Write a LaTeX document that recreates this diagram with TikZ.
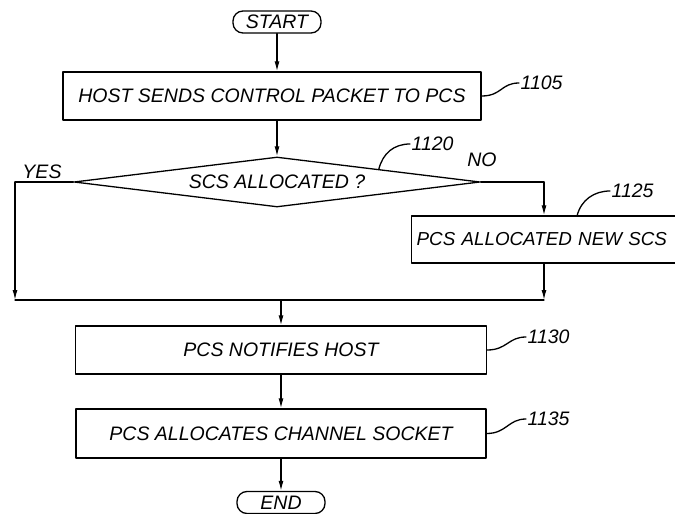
\documentclass[tikz,border=0pt]{standalone}
\usepackage{fontspec}
\setsansfont{Liberation Sans}
\usetikzlibrary{arrows.meta,shapes.geometric}
\tikzset{
  flowtext/.style={font=\sffamily\itshape\fontsize{19.5bp}{22bp}\selectfont},
  procbox/.style={draw,flowtext,minimum height=48bp,inner sep=0pt},
  termbox/.style={draw,flowtext,rounded corners=10bp,minimum width=88bp,minimum height=22bp,inner sep=0pt},
  decbox/.style={draw,flowtext,diamond,aspect=8,minimum width=406bp,minimum height=50bp,inner sep=0pt},
  reflabel/.style={flowtext,anchor=west,inner sep=1bp}
}
\begin{document}
\begin{tikzpicture}[line cap=round,line join=round,>={Latex[length=10bp,width=5bp]},x=1bp,y=-1bp,line width=1.3bp]
\useasboundingbox (0,0) rectangle (675,514);
\node[termbox] (start) at (277,22) {START};
\node[procbox,minimum width=418bp] (b1105) at (272,96) {HOST SENDS CONTROL PACKET TO PCS};
\node[decbox] (dec) at (277,182) {SCS ALLOCATED ?};
\node[procbox,anchor=west,text width=276bp,align=left,inner xsep=5bp,minimum height=47bp,
  font=\sffamily\itshape\fontsize{18.8bp}{22bp}\selectfont] (b1125) at (411,239.5) {PCS ALLOCATED NEW SCS};
\node[procbox,minimum width=411bp] (b1130) at (281,350) {PCS NOTIFIES HOST};
\node[procbox,minimum width=410bp,minimum height=49bp] (b1135) at (281,433.5) {PCS ALLOCATES CHANNEL SOCKET};
\node[termbox] (end) at (281,502.5) {END};
\node[flowtext] (yes) at (42,172) {YES};
\node[flowtext] (no) at (482,160) {NO};
\node[reflabel] (n1105) at (519,83) {1105};
\node[reflabel] (n1120) at (410,144) {1120};
\node[reflabel] (n1125) at (610,191) {1125};
\node[reflabel] (n1130) at (526,337) {1130};
\node[reflabel] (n1135) at (526,419) {1135};
\coordinate (yturn) at (15,182);
\coordinate (nturn) at (544,182);
\coordinate (jleft) at (15,300);
\coordinate (jright) at (544,300);
\coordinate (t1125) at (577,216);
\draw[->] (start) -- (start.south |- b1105.north);
\draw[->] (dec.north |- b1105.south) -- (dec.north);
\draw (dec.west) -- (yturn);
\draw[->] (yturn) -- (jleft);
\draw (dec.east) -- (nturn);
\draw[->] (nturn) -- (nturn |- b1125.north);
\draw[->] (nturn |- b1125.south) -- (jright);
\draw (jleft) -- (jright);
\draw[->] (b1130.north |- jleft) -- (b1130.north);
\draw[->] (b1130) -- (b1135);
\draw[->] (b1135) -- (end);
\draw (b1105.east) .. controls +(20,0) and +(-18,0) .. (n1105.west);
\draw (dec.north east) .. controls +(4,-16) and +(-16,0) .. (n1120.west);
\draw (t1125) .. controls +(4,-16) and +(-16,0) .. (n1125.west);
\draw (b1130.east) .. controls +(20,0) and +(-18,0) .. (n1130.west);
\draw (b1135.east) .. controls +(20,0) and +(-18,0) .. (n1135.west);
\end{tikzpicture}
\end{document}
